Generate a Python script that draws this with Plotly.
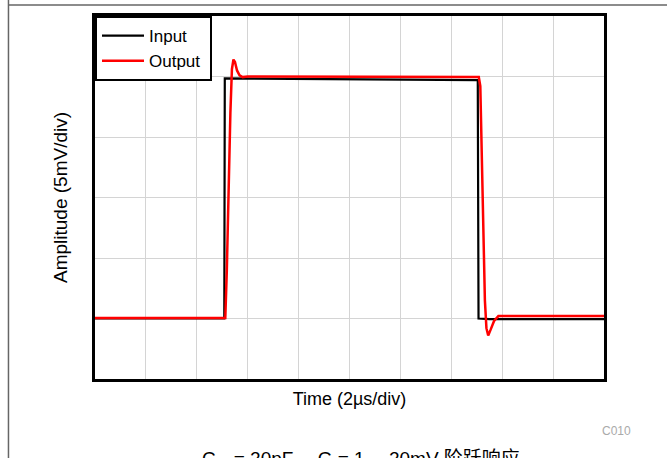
import plotly.graph_objects as go

# Step response, Time in us (2us/div), amplitude in mV (5mV/div)
input_t = [0, 5.08, 5.1, 8.0, 12.0, 15.04, 15.07, 15.5, 20]
input_v = [5.0, 5.0, 24.85, 24.8, 24.75, 24.7, 5.0, 4.95, 4.95]

output_t = [0, 5.12, 5.18, 5.25, 5.32, 5.38, 5.44, 5.5, 5.58, 5.68, 5.8, 6.0, 10.0,
            15.08, 15.14, 15.2, 15.26, 15.32, 15.38, 15.45, 15.55, 15.68, 15.85, 16.1, 20]
output_v = [5.05, 5.05, 9.0, 16.0, 22.0, 25.6, 26.4, 26.2, 25.5, 25.1, 24.95, 25.0, 25.0,
            24.95, 24.2, 19.0, 12.0, 6.5, 4.2, 3.6, 4.1, 4.8, 5.2, 5.2, 5.2]

FONT = "Arial, 'Liberation Sans', 'Noto Sans CJK SC', sans-serif"

fig = go.Figure()
fig.add_trace(go.Scatter(x=input_t, y=input_v, mode="lines", name="Input&nbsp;",
                         line=dict(color="black", width=2.2)))
fig.add_trace(go.Scatter(x=output_t, y=output_v, mode="lines", name="Output&nbsp;",
                         line=dict(color="#ff0000", width=2.5)))

fig.update_xaxes(range=[0, 20], dtick=2, showticklabels=False, ticks="",
                 showgrid=True, gridcolor="#d4d4d4", gridwidth=1, zeroline=False,
                 showline=True, linecolor="black", linewidth=3, mirror=True,
                 title=dict(text="Time (2µs/div)", font=dict(size=18, color="black"), standoff=12))
fig.update_yaxes(range=[0, 30], dtick=5, showticklabels=False, ticks="",
                 showgrid=True, gridcolor="#d4d4d4", gridwidth=1, zeroline=False,
                 showline=True, linecolor="black", linewidth=3, mirror=True,
                 title=dict(text="Amplitude (5mV/div)", font=dict(size=19, color="black"), standoff=20))

# page frame lines
fig.add_shape(type="line", xref="paper", yref="paper", x0=-0.17, x1=1.2, y0=1.0303, y1=1.0303,
              line=dict(color="#666666", width=1.5))
fig.add_shape(type="line", xref="paper", yref="paper", x0=-0.17, x1=-0.17, y0=-0.3, y1=1.06,
              line=dict(color="#666666", width=1.5))

fig.add_annotation(text="C010", xref="paper", yref="paper", x=(616 - 95) / 509, y=(379 - 431) / 363,
                   xanchor="center", yanchor="middle", showarrow=False,
                   font=dict(size=12, color="#aaaaaa"))
fig.add_annotation(text="C<sub>L</sub>  = 20pF， G = 1， 20mV 阶跃响应", xref="paper", yref="paper",
                   x=(361 - 95) / 509, y=(379 - 460) / 363, xanchor="center", yanchor="middle",
                   showarrow=False, font=dict(size=19, color="black"))

fig.update_layout(
    width=667, height=458,
    margin=dict(l=95, r=63, t=16, b=79),
    paper_bgcolor="white", plot_bgcolor="white",
    font=dict(family=FONT, size=18, color="black"),
    showlegend=True,
    legend=dict(x=0, y=1, xanchor="left", yanchor="top", bgcolor="white",
                bordercolor="black", borderwidth=2, font=dict(size=17),
                tracegroupgap=0, itemwidth=42),
)

fig.write_html("out.html", config={"displayModeBar": False},
               post_script="document.body.style.margin='0';")
